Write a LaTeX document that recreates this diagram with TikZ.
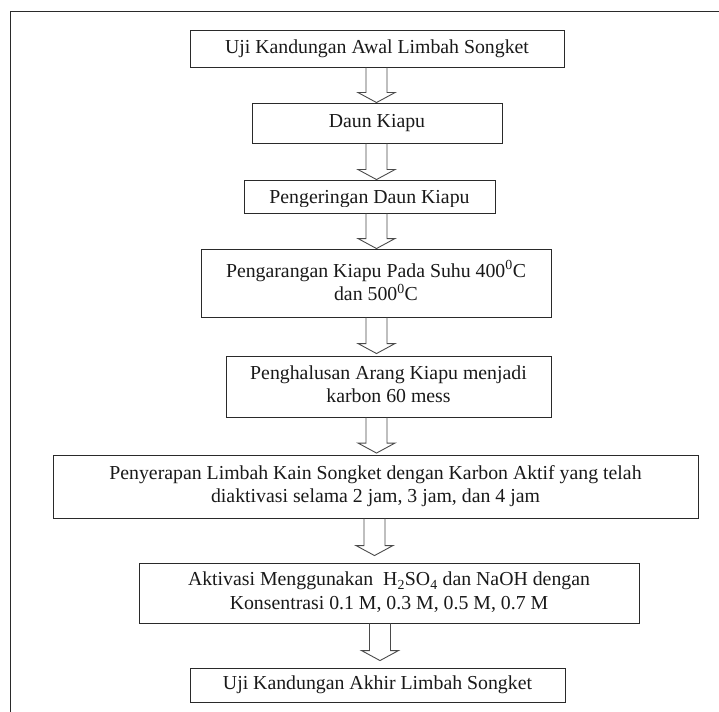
\documentclass[tikz,border=0pt]{standalone}
\usepackage{fontspec}
\setmainfont{Liberation Serif}
\usetikzlibrary{calc}
\definecolor{FLine}{HTML}{2A2A2A}
\definecolor{FArrow}{HTML}{4A4A4A}
\newcommand{\lnstrut}{\rule[-4.4pt]{0pt}{18.2pt}}
% hollow block arrow on the spine, from one step down to the next
\newcommand{\flowto}[4][0]{%
  \draw[flow] let \p1=(#2.south), \p2=(#3.north), \p3=(spine) in
    (\x3+#1pt-10.5pt,\y1) -- (\x3+#1pt-10.5pt,\y2+#4pt+10pt)
    -- (\x3+#1pt-18.5pt,\y2+#4pt+10pt) -- (\x3+#1pt,\y2+#4pt)
    -- (\x3+#1pt+18.5pt,\y2+#4pt+10pt) -- (\x3+#1pt+10.5pt,\y2+#4pt+10pt)
    -- (\x3+#1pt+10.5pt,\y1);}

\begin{document}
\begin{tikzpicture}[
  x=1pt,y=-1pt,
  every node/.style={font=\fontsize{19.8}{23.4}\selectfont,text=black!90},
  stepbox/.style={draw=FLine,line width=0.9pt,inner sep=2pt,align=center,
    execute at begin node=\lnstrut,execute at end node=\lnstrut},
  flow/.style={draw=FArrow,line width=0.9pt,line join=miter},
  frame/.style={draw=FLine,line width=1pt}
]
  \useasboundingbox (0,0) rectangle (719,711);
  \draw[frame] (10.7,730) -- (10.7,11.3) -- (740,11.3);
  \coordinate (spine) at (376.5,0);

  \node[stepbox,minimum width=374pt,minimum height=37pt] (awal) at (377,48.5)
    {Uji Kandungan Awal Limbah Songket};
  \node[stepbox,minimum width=250pt,minimum height=40pt] (daun) at (377,123)
    {Daun Kiapu};
  % text box too short in the original: descenders are cut off
  \node[stepbox,minimum width=251pt,minimum height=33pt,text depth=0pt] (kering) at (369.5,196.5)
    {Pengeringan Daun Kiapu};
  \fill[white] ([shift={(2pt,1pt)}]kering.south west) rectangle ([shift={(-2pt,6.6pt)}]kering.south east);
  \node[stepbox,minimum width=350pt,minimum height=68pt] (arang) at (376,283)
    {Pengarangan Kiapu Pada Suhu 400\textsuperscript{0}C\\dan 500\textsuperscript{0}C};
  \node[stepbox,minimum width=325pt,minimum height=61pt] (halus) at (388.5,386.5)
    {Penghalusan Arang Kiapu menjadi\\karbon 60 mess};
  \node[stepbox,minimum width=645pt,minimum height=63pt] (serap) at (375.5,486.5)
    {Penyerapan Limbah Kain Songket dengan Karbon Aktif yang telah\\
     diaktivasi selama 2 jam, 3 jam, dan 4 jam};
  \node[stepbox,minimum width=500pt,minimum height=60pt] (aktivasi) at (389,593)
    {Aktivasi Menggunakan\ \ H\textsubscript{2}SO\textsubscript{4} dan NaOH dengan\\
     Konsentrasi 0.1 M, 0.3 M, 0.5 M, 0.7 M};
  \node[stepbox,minimum width=375pt,minimum height=34pt] (akhir) at (377.5,685)
    {Uji Kandungan Akhir Limbah Songket};

  \flowto{awal}{daun}{0}
  \flowto{daun}{kering}{0}
  \flowto{kering}{arang}{0}
  \flowto{arang}{halus}{2}
  \flowto{halus}{serap}{1.5}
  \flowto[-2]{serap}{aktivasi}{7}
  \flowto[3.5]{aktivasi}{akhir}{7}
\end{tikzpicture}
\end{document}
